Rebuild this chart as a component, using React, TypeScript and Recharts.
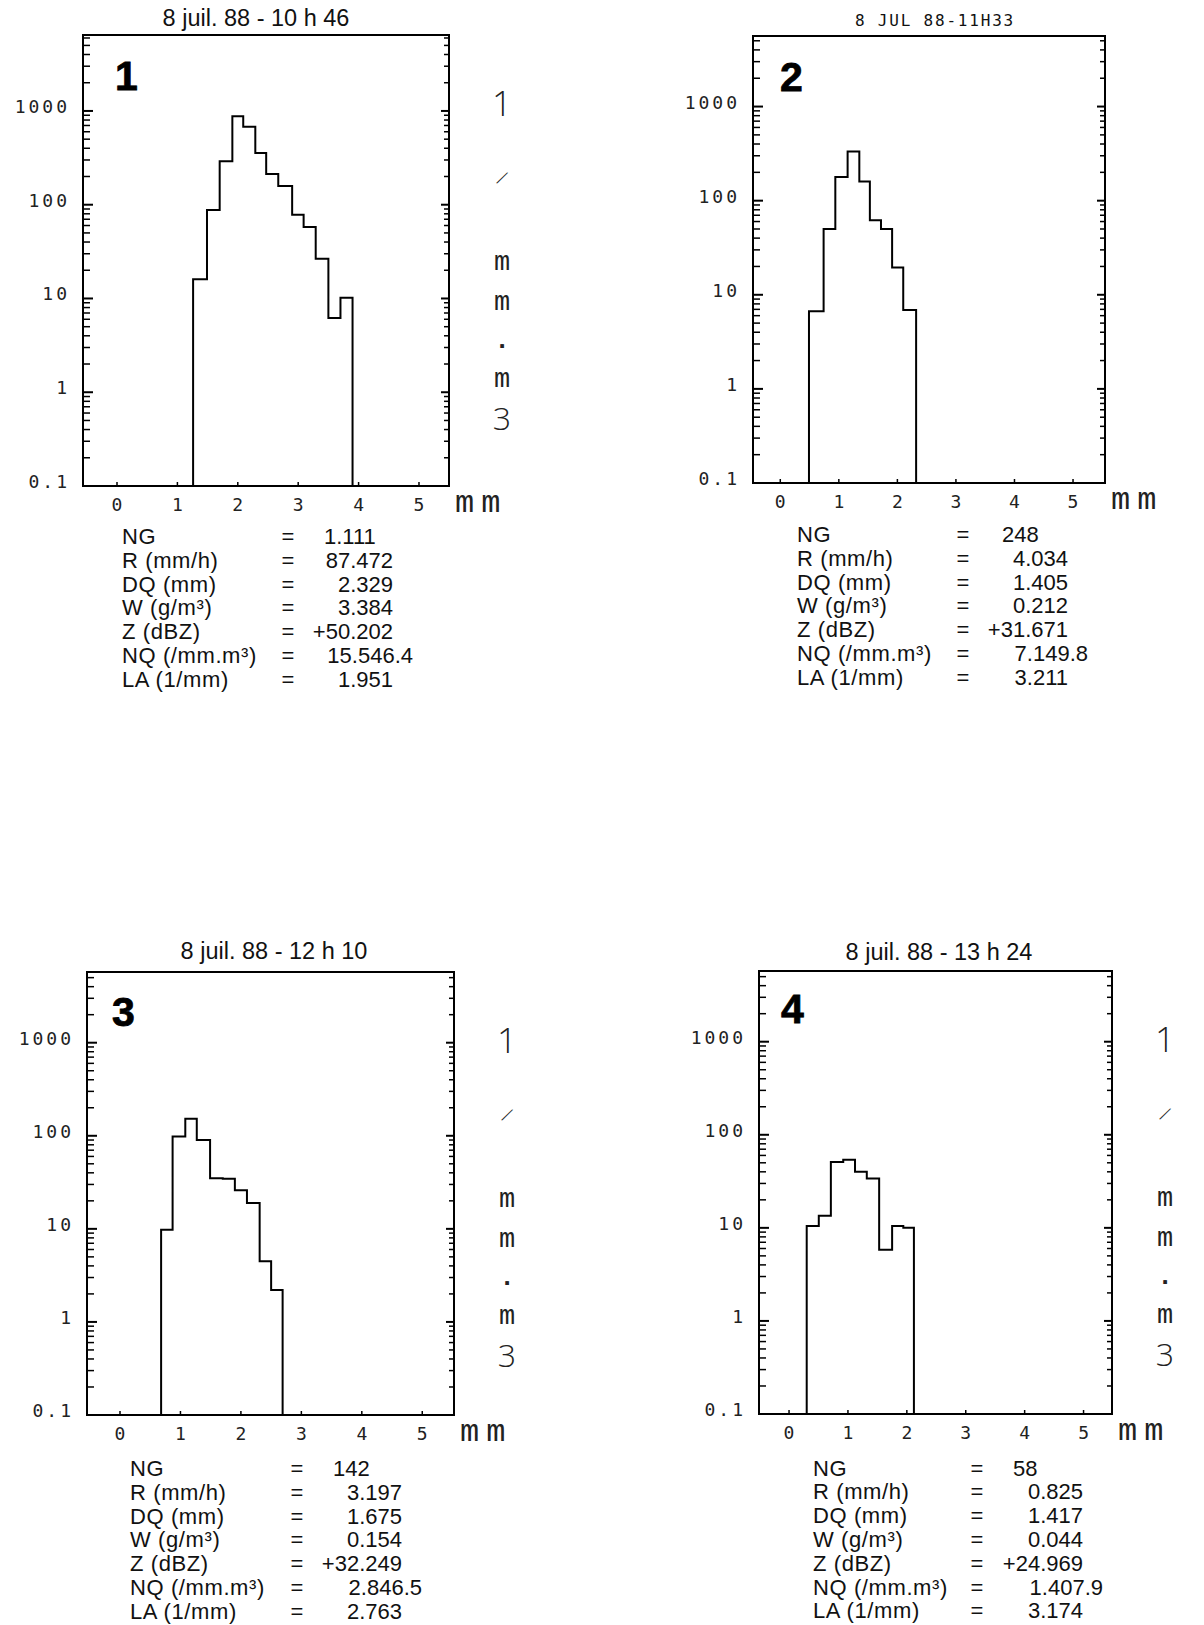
import React from 'react';
import { LineChart, Line, XAxis, YAxis, ReferenceArea } from 'recharts';

// ---------- data ----------
const EDGES_1 = [1.26, 1.49, 1.7, 1.91, 2.09, 2.29, 2.47, 2.67, 2.9, 3.09, 3.29, 3.5, 3.7, 3.9];
const VALUES_1 = [16, 88, 290, 880, 680, 355, 212, 158, 78, 58, 26.5, 6.2, 10.2];

const EDGES_2 = [0.49, 0.74, 0.94, 1.15, 1.35, 1.53, 1.72, 1.91, 2.1, 2.32];
const VALUES_2 = [6.7, 50, 178, 333, 160, 62, 50, 19.5, 6.9];

const EDGES_3 = [0.68, 0.87, 1.08, 1.27, 1.49, 1.7, 1.9, 2.1, 2.31, 2.5, 2.69];
const VALUES_3 = [9.8, 98, 152, 90, 35, 34.5, 26, 19, 4.5, 2.2];

const EDGES_4 = [0.3, 0.505, 0.71, 0.92, 1.12, 1.32, 1.53, 1.75, 1.94, 2.12];
const VALUES_4 = [10.5, 13.5, 51, 54, 40, 34, 5.8, 10.5, 10.0];

const X_TICKS = [0, 1, 2, 3, 4, 5];
const Y_MAJOR = [0.1, 1, 10, 100, 1000];
const Y_MAJOR_LABELS = ['0.1', '1', '10', '100', '1000'];
const Y_MINOR_MULT = [2, 3, 4, 5, 6, 7, 8, 9];
const Y_FLOOR = 0.1;

const TITLE_1 = '8 juil. 88 - 10 h 46';
const TITLE_2 = '8 JUL 88-11H33';
const TITLE_3 = '8 juil. 88 - 12 h 10';
const TITLE_4 = '8 juil. 88 - 13 h 24';

const STAT_LABELS = ['NG', 'R (mm/h)', 'DQ (mm)', 'W (g/m³)', 'Z (dBZ)', 'NQ (/mm.m³)', 'LA (1/mm)'];
const STATS_1 = ['1.111', '87.472', '2.329', '3.384', '+50.202', '15.546.4', '1.951'];
const STATS_2 = ['248', '4.034', '1.405', '0.212', '+31.671', '7.149.8', '3.211'];
const STATS_3 = ['142', '3.197', '1.675', '0.154', '+32.249', '2.846.5', '2.763'];
const STATS_4 = ['58', '0.825', '1.417', '0.044', '+24.969', '1.407.9', '3.174'];

const UNIT_GLYPHS = ['1', '/', 'm', 'm', '.', 'm', '3'];

// ---------- layout ----------
const PANELS = [
  {
    box: { l: 83, t: 35, r: 449, b: 486 }, xDomain: [-0.563, 5.497], yMax: 6457,
    edges: EDGES_1, values: VALUES_1, title: TITLE_1, titleMono: false, titleX: 256, titleY: 26,
    num: '1', numX: 115, numY: 90, rightLabel: true, stats: STATS_1,
    st: { label: 122, eq: 288, right: 393, ng: 324, y: 544 },
  },
  {
    box: { l: 753, t: 36, r: 1105, b: 483 }, xDomain: [-0.466, 5.546], yMax: 5620,
    edges: EDGES_2, values: VALUES_2, title: TITLE_2, titleMono: true, titleX: 935, titleY: 26,
    num: '2', numX: 780, numY: 91, rightLabel: false, stats: STATS_2,
    st: { label: 797, eq: 963, right: 1068, ng: 1002, y: 542 },
  },
  {
    box: { l: 87, t: 972, r: 454, b: 1415 }, xDomain: [-0.546, 5.525], yMax: 5750,
    edges: EDGES_3, values: VALUES_3, title: TITLE_3, titleMono: false, titleX: 274, titleY: 959,
    num: '3', numX: 112, numY: 1026, rightLabel: true, stats: STATS_3,
    st: { label: 130, eq: 297, right: 402, ng: 333, y: 1476 },
  },
  {
    box: { l: 759, t: 971, r: 1112, b: 1414 }, xDomain: [-0.51, 5.483], yMax: 5750,
    edges: EDGES_4, values: VALUES_4, title: TITLE_4, titleMono: false, titleX: 939, titleY: 960,
    num: '4', numX: 781, numY: 1023, rightLabel: true, stats: STATS_4,
    st: { label: 813, eq: 977, right: 1083, ng: 1013, y: 1475.5 },
  },
];

const MONO = '"DejaVu Sans Mono", monospace';
const SANS = '"Liberation Sans", Arial, sans-serif';
const THIN = '"Open Sans", "Liberation Sans", sans-serif';
const LMONO = '"Liberation Mono", monospace';

function buildStep(edges: number[], values: number[]) {
  const pts: { x: number; y: number }[] = [{ x: edges[0], y: Y_FLOOR }];
  values.forEach((v, i) => pts.push({ x: edges[i], y: v }));
  const last = edges[edges.length - 1];
  pts.push({ x: last, y: values[values.length - 1] });
  pts.push({ x: last, y: Y_FLOOR });
  return pts;
}

function buildYTicks(yMax: number) {
  const out: number[] = [];
  Y_MAJOR.forEach((m) => {
    out.push(m);
    Y_MINOR_MULT.forEach((k) => {
      const v = m * k;
      if (v <= yMax) out.push(v);
    });
  });
  return out;
}

function majorIndex(v: number) {
  return Y_MAJOR.findIndex((m) => Math.abs(m - v) / m < 1e-6);
}

function Panel({ p }: { p: any }) {
  const YW = 50, XH = 30;
  const ML = 80, MR = 20, MT = 10, MB = 40;
  const w = p.box.r - p.box.l;
  const h = p.box.b - p.box.t;
  const data = buildStep(p.edges, p.values);
  const yTicks = buildYTicks(p.yMax);

  const renderYTick = (props: any) => {
    const { x, y, payload } = props;
    const mi = majorIndex(payload.value);
    const lenL = mi >= 0 ? 10 : 7;
    const lenR = mi >= 0 ? 8 : 5;
    return (
      <g>
        <line x1={x} y1={y} x2={x + lenL} y2={y} stroke="#000" strokeWidth={mi >= 0 ? 2 : 1.5} />
        <line x1={x + w} y1={y} x2={x + w - lenR} y2={y} stroke="#000" strokeWidth={mi >= 0 ? 2 : 1.5} />
        {mi >= 0 && (
          <text x={x - 13} y={y + 2} textAnchor="end" fontFamily={MONO} fontSize={18}
            letterSpacing={3} fill="#222">{Y_MAJOR_LABELS[mi]}</text>
        )}
      </g>
    );
  };

  const renderXTick = (props: any) => {
    const { x, y, payload } = props;
    return (
      <g>
        <line x1={x} y1={y} x2={x} y2={y - 4} stroke="#000" strokeWidth={1.5} />
        <text x={x + 1.5} y={y + 25} textAnchor="middle" fontFamily={MONO} fontSize={18}
          letterSpacing={3} fill="#222">{String(payload.value)}</text>
      </g>
    );
  };

  return (
    <div style={{ position: 'absolute', left: p.box.l - ML, top: p.box.t - MT }}>
      <LineChart width={w + ML + MR} height={h + MT + MB} data={data}
        margin={{ top: MT, right: MR, bottom: MB - XH, left: ML - YW }}>
        <XAxis type="number" dataKey="x" domain={p.xDomain} allowDataOverflow ticks={X_TICKS}
          interval={0} height={XH} tickSize={0} tickMargin={0} axisLine={false} tickLine={false}
          tick={renderXTick} />
        <YAxis type="number" scale="log" domain={[Y_FLOOR, p.yMax]} allowDataOverflow ticks={yTicks}
          interval={0} width={YW} tickSize={0} tickMargin={0} axisLine={false} tickLine={false}
          tick={renderYTick} />
        <ReferenceArea x1={p.xDomain[0]} x2={p.xDomain[1]} y1={Y_FLOOR} y2={p.yMax}
          fill="none" fillOpacity={0} stroke="#000" strokeWidth={2} ifOverflow="visible" />
        <Line type="stepAfter" dataKey="y" stroke="#000" strokeWidth={2} dot={false}
          isAnimationActive={false} />
      </LineChart>
    </div>
  );
}

function PanelText({ p }: { p: any }) {
  const R = p.box.r, T = p.box.t, B = p.box.b;
  const cx = R + 53;
  const rowH = 23.8;
  return (
    <g>
      {p.titleMono ? (
        <text x={p.titleX} y={p.titleY} textAnchor="middle" fontFamily={MONO} fontSize={16}
          letterSpacing={1.8} fill="#111">{p.title}</text>
      ) : (
        <text x={p.titleX} y={p.titleY} textAnchor="middle" fontFamily={SANS} fontSize={23.5}
          fill="#111">{p.title}</text>
      )}
      <text x={p.numX} y={p.numY} fontFamily={SANS} fontWeight="bold" fontSize={41} fill="#000"
        stroke="#000" strokeWidth={0.8}>{p.num}</text>
      <text x={R + 6} y={B + 26} fontFamily={LMONO} fontSize={32}
        letterSpacing={7} fill="#222">mm</text>
      {p.rightLabel && (
        <g fill="#222">
          <text x={cx} y={T + 81} textAnchor="middle" fontFamily={THIN} fontWeight={300} fontSize={35}>{UNIT_GLYPHS[0]}</text>
          <text x={cx} y={T + 150} textAnchor="middle" fontFamily={THIN} fontWeight={300} fontSize={20}
            transform={`rotate(25 ${cx} ${T + 143})`}>{UNIT_GLYPHS[1]}</text>
          <text x={cx} y={T + 235} textAnchor="middle" fontFamily={LMONO} fontSize={27}>{UNIT_GLYPHS[2]}</text>
          <text x={cx} y={T + 275} textAnchor="middle" fontFamily={LMONO} fontSize={27}>{UNIT_GLYPHS[3]}</text>
          <text x={cx} y={T + 313} textAnchor="middle" fontFamily={SANS} fontWeight="bold" fontSize={26}>{UNIT_GLYPHS[4]}</text>
          <text x={cx} y={T + 352} textAnchor="middle" fontFamily={LMONO} fontSize={27}>{UNIT_GLYPHS[5]}</text>
          <text x={cx} y={T + 395} textAnchor="middle" fontFamily={THIN} fontWeight={300} fontSize={32}>{UNIT_GLYPHS[6]}</text>
        </g>
      )}
      <g fontFamily={SANS} fontSize={22} fill="#111">
        {STAT_LABELS.map((lab, i) => {
          const y = p.st.y + i * rowH;
          const val = p.stats[i];
          let valEl;
          if (i === 0) {
            valEl = <text x={p.st.ng} y={y}>{val}</text>;
          } else if (i === 5) {
            valEl = <text x={p.st.right + 20} y={y} textAnchor="end">{val}</text>;
          } else {
            valEl = <text x={p.st.right} y={y} textAnchor="end">{val}</text>;
          }
          return (
            <g key={lab}>
              <text x={p.st.label} y={y} letterSpacing={0.6}>{lab}</text>
              <text x={p.st.eq} y={y} textAnchor="middle">=</text>
              {valEl}
            </g>
          );
        })}
      </g>
    </g>
  );
}

export default function App() {
  return (
    <div style={{ position: 'absolute', left: 0, top: 0, width: 1204, height: 1625, background: '#fff', overflow: 'hidden' }}>
      {PANELS.map((p, i) => <Panel key={i} p={p} />)}
      <svg width={1204} height={1625} style={{ position: 'absolute', left: 0, top: 0, pointerEvents: 'none' }}>
        {PANELS.map((p, i) => <PanelText key={i} p={p} />)}
      </svg>
    </div>
  );
}
